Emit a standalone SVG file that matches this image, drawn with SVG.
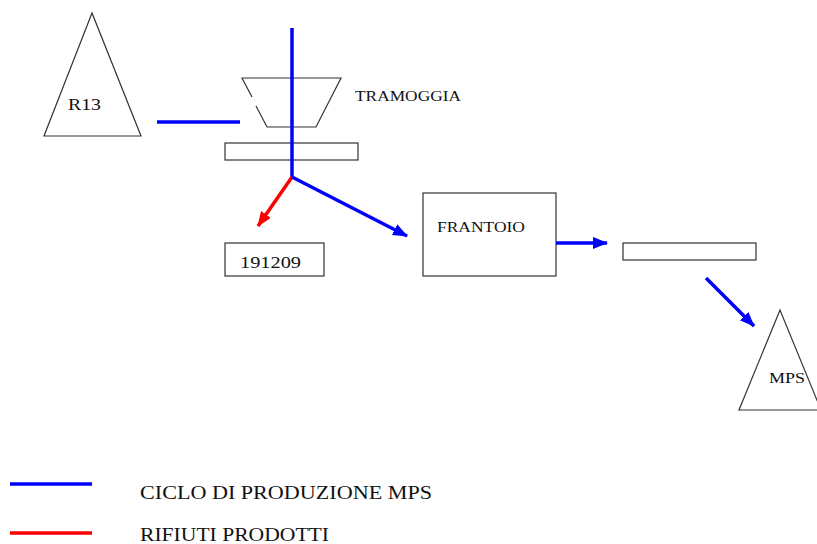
<svg xmlns="http://www.w3.org/2000/svg" width="817" height="544" viewBox="0 0 817 544">
<style>
.shape{fill:#fff;stroke:#333;stroke-width:1.2}
.t{font-family:"Liberation Serif","Times New Roman",serif;fill:#111}
.b{stroke:#0000ff;stroke-width:3.5;fill:none}
.r{stroke:#ff0000;stroke-width:3.5;fill:none}
</style>
<defs>
<marker id="ab" markerUnits="userSpaceOnUse" markerWidth="16" markerHeight="14" refX="14" refY="6" orient="auto"><path d="M0,0 L15,6 L0,12 Z" fill="#0000ff"/></marker>
<marker id="ar" markerUnits="userSpaceOnUse" markerWidth="16" markerHeight="14" refX="14" refY="6" orient="auto"><path d="M0,0 L15,6 L0,12 Z" fill="#ff0000"/></marker>
</defs>
<rect width="817" height="544" fill="#fff"/>
<g id="r13">
<polygon class="shape" points="92,13 44,136 141,136"/>
<text class="t" x="68" y="110" font-size="16" textLength="33" lengthAdjust="spacingAndGlyphs">R13</text>
</g>
<g id="tramoggia">
<path class="shape" d="M252,97 L242,78 L341,78 L316,127 L267,127 L256,106" />
<text class="t" x="355" y="101" font-size="15" textLength="106" lengthAdjust="spacingAndGlyphs">TRAMOGGIA</text>
</g>
<g id="vaglio1">
<rect class="shape" x="225" y="143" width="133" height="17"/>
</g>
<g id="rifiuto">
<rect class="shape" x="225" y="243" width="99" height="33"/>
<text class="t" x="240" y="268" font-size="17" textLength="61" lengthAdjust="spacingAndGlyphs">191209</text>
</g>
<g id="frantoio">
<rect class="shape" x="423" y="193" width="133" height="83"/>
<text class="t" x="437" y="232" font-size="15" textLength="88" lengthAdjust="spacingAndGlyphs">FRANTOIO</text>
</g>
<g id="vaglio2">
<rect class="shape" x="623" y="243" width="133" height="17"/>
</g>
<g id="mps">
<polygon class="shape" points="780,310 739,410 821,410"/>
<text class="t" x="769" y="383" font-size="15" textLength="36" lengthAdjust="spacingAndGlyphs">MPS</text>
</g>
<g id="connectors">
<line class="b" x1="157" y1="122" x2="240" y2="122"/>
<polyline class="b" points="292,28 292,177"/>
<line class="r" x1="292" y1="177" x2="258" y2="226" marker-end="url(#ar)"/>
<line class="b" x1="292" y1="177" x2="407" y2="236" marker-end="url(#ab)"/>
<line class="b" x1="556" y1="243" x2="607" y2="243" marker-end="url(#ab)"/>
<line class="b" x1="706" y1="278" x2="754" y2="326" marker-end="url(#ab)"/>
</g>
<g id="legend">
<line class="b" x1="10" y1="484" x2="92" y2="484"/>
<line class="r" x1="10" y1="533" x2="92" y2="533"/>
<text class="t" x="140" y="499" font-size="18" textLength="292" lengthAdjust="spacingAndGlyphs">CICLO DI PRODUZIONE  MPS</text>
<text class="t" x="140" y="541" font-size="18" textLength="189" lengthAdjust="spacingAndGlyphs">RIFIUTI PRODOTTI</text>
</g>
</svg>
